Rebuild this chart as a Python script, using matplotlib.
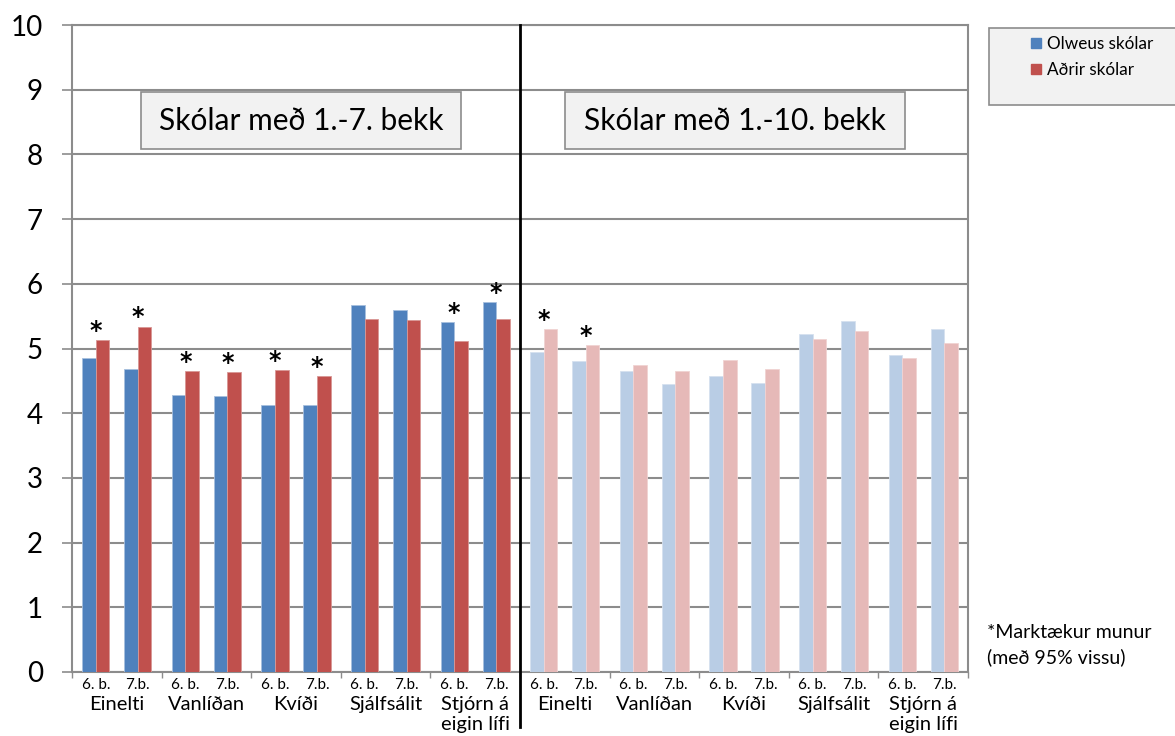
import matplotlib
matplotlib.use("Agg")
import matplotlib.pyplot as plt
from matplotlib.patches import Rectangle
from matplotlib.lines import Line2D
from matplotlib.transforms import blended_transform_factory

plt.rcParams['font.family'] = ['Lato', 'DejaVu Sans']

# ---- data ----
categories = ["Einelti", "Vanlíðan", "Kvíði", "Sjálfsálit", "Stjórn á\neigin lífi"]
grades = ["6. b.", "7.b."]
panel_titles = ["Skólar með 1.-7. bekk", "Skólar með 1.-10. bekk"]
series_names = ["Olweus skólar", "Aðrir skólar"]

olweus_1_7 = [4.86, 4.68, 4.28, 4.26, 4.13, 4.13, 5.67, 5.59, 5.41, 5.72]
adrir_1_7 = [5.13, 5.34, 4.65, 4.63, 4.67, 4.57, 5.46, 5.44, 5.11, 5.46]
olweus_1_10 = [4.94, 4.80, 4.65, 4.45, 4.58, 4.46, 5.22, 5.42, 4.90, 5.30]
adrir_1_10 = [5.30, 5.05, 4.74, 4.65, 4.82, 4.69, 5.14, 5.27, 4.86, 5.08]
signif_1_7 = [1, 1, 1, 1, 1, 1, 0, 0, 1, 1]
signif_1_10 = [1, 1, 0, 0, 0, 0, 0, 0, 0, 0]

footnote = "*Marktækur munur\n(með 95% vissu)"

# ---- style ----
blue, red = "#4F81BD", "#C0504D"
lblue, lred = "#B9CDE5", "#E6B9B8"
grid_c = "#8C8C8C"
bar_w = 0.152
pair_off = 0.234

fig = plt.figure(figsize=(11.75, 7.36), dpi=100)
ax = fig.add_axes([72 / 1175, 1 - 672 / 736, (968 - 72) / 1175, (672 - 25) / 736])

panels = [
    (olweus_1_7, adrir_1_7, signif_1_7, blue, red, "#A7BFDE", "#D99795"),
    (olweus_1_10, adrir_1_10, signif_1_10, lblue, lred, "#D6E1EF", "#F0D3D2"),
]

for p, (ov, av, sg, cb, cr, eb, er) in enumerate(panels):
    for i in range(len(ov)):
        c, g = divmod(i, 2)
        center = p * 5 + c + 0.5 + (g - 0.5) * 2 * pair_off
        ax.bar(center - bar_w / 2, ov[i], width=bar_w, color=cb,
               edgecolor=eb, linewidth=0.6, zorder=3)
        ax.bar(center + bar_w / 2, av[i], width=bar_w, color=cr,
               edgecolor=er, linewidth=0.6, zorder=3)
        if sg[i]:
            ax.annotate("*", (center, max(ov[i], av[i])), xytext=(0, 1.5),
                        textcoords="offset points", ha="center", va="baseline",
                        fontsize=17, family="DejaVu Sans", weight="bold",
                        color="black", zorder=4)

ax.set_xlim(0, 10)
ax.set_ylim(0, 10)
ax.set_yticks(range(0, 11))
ax.set_yticklabels([str(v) for v in range(0, 11)], fontsize=20)
ax.yaxis.grid(True, color=grid_c, linewidth=1.5, zorder=0)
ax.set_axisbelow(True)
ax.tick_params(axis="y", direction="out", length=7.5, width=1.2,
               color=grid_c, pad=13.5)
ax.set_xticks([])
ax.set_xticks(range(0, 11), minor=True)
ax.tick_params(axis="x", which="minor", direction="out", length=4,
               width=1.0, color=grid_c)
ax.tick_params(axis="x", which="major", length=0)
for s in ax.spines.values():
    s.set_color(grid_c)
    s.set_linewidth(1.5)

# x labels
tr = blended_transform_factory(ax.transData, ax.transAxes)
for p in range(2):
    for c, cat in enumerate(categories):
        base = p * 5 + c + 0.5
        for g, gl in enumerate(grades):
            ax.text(base + (g - 0.5) * 2 * pair_off, -0.0195, gl, transform=tr,
                    ha="center", va="center", fontsize=11)
        ax.text(base, -0.037, cat, transform=tr, ha="center", va="top",
                fontsize=14.5, linespacing=1.25)

# separator line
ax.plot([5, 5], [-0.085, 1], transform=tr, color="black", linewidth=2,
        clip_on=False, zorder=5)

# panel title boxes (x0, x1 in data units)
box_extents = [(0.775, 4.346), (5.499, 9.293)]
for t, (x0, x1) in zip(panel_titles, box_extents):
    y0, y1 = 8.083, 8.96
    ax.add_patch(Rectangle((x0, y0), x1 - x0, y1 - y0, facecolor="#F2F2F2",
                           edgecolor=grid_c, linewidth=1.2, zorder=6))
    ax.text((x0 + x1) / 2, (y0 + y1) / 2, t, ha="center", va="center",
            fontsize=21.5, zorder=7)

# legend box
fig.patches.append(Rectangle((989 / 1175, 1 - 105 / 736), 0.2, 77 / 736,
                             transform=fig.transFigure, facecolor="#F2F2F2",
                             edgecolor=grid_c, linewidth=1.2, zorder=1))
handles = [Line2D([], [], marker="s", linestyle="none", markersize=7.5,
                  markerfacecolor=col, markeredgecolor=col)
           for col in (blue, red)]
fig.legend(handles, series_names, loc="upper left",
           bbox_to_anchor=(1012 / 1175, 1 - 21 / 736), frameon=False,
           fontsize=12.3, handletextpad=0.15, labelspacing=0.55,
           handlelength=1.0, borderpad=0.4)

fig.text(987 / 1175, 1 - 624 / 736, footnote, ha="left", va="top",
         fontsize=14, linespacing=1.5)

fig.savefig("out.png", dpi=100)
